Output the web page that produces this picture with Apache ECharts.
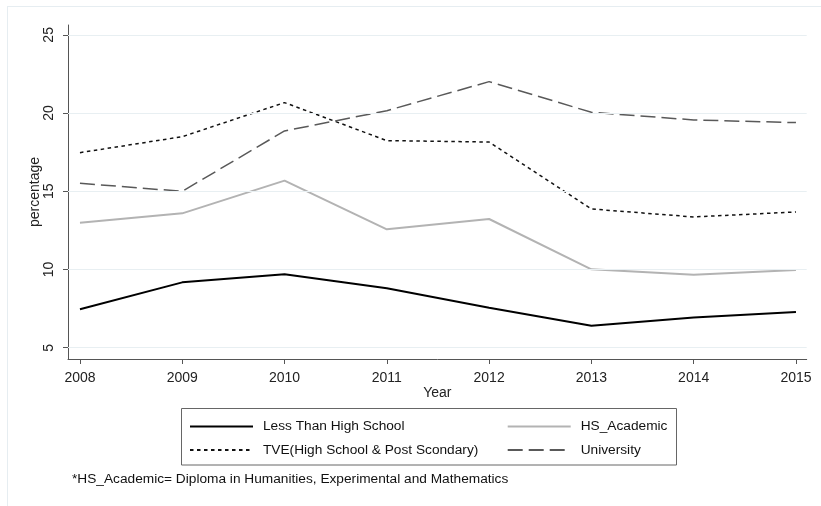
<!DOCTYPE html>
<html>
<head>
<meta charset="utf-8">
<script src="https://cdn.jsdelivr.net/npm/echarts@6/dist/echarts.min.js"></script>
<style>html,body{margin:0;padding:0;background:#fff}#c{width:821px;height:506px}</style>
</head>
<body>
<div id="c"></div>
<script>
const years = [2008, 2009, 2010, 2011, 2012, 2013, 2014, 2015];
const lessThanHS = [7.46, 9.18, 9.70, 8.80, 7.55, 6.41, 6.94, 7.28];
const hsAcademic = [12.99, 13.59, 15.68, 12.57, 13.23, 10.01, 9.67, 9.97];
const tve = [17.47, 18.49, 20.67, 18.24, 18.15, 13.87, 13.36, 13.68];
const university = [15.51, 15.00, 18.86, 20.15, 22.01, 20.05, 19.56, 19.39];
const yTicks = [5, 10, 15, 20, 25];
const seriesNames = ['Less Than High School', 'HS_Academic', 'TVE(High School & Post Scondary)', 'University'];
const footnote = '*HS_Academic= Diploma in Humanities, Experimental and Mathematics';

const FONT = '"Liberation Sans", Arial, sans-serif';
const pair = arr => years.map((y, i) => [y, arr[i]]);

const chart = echarts.init(document.getElementById('c'), null, {renderer: 'canvas'});
const mk = (name, data, color, width, type) => ({
  name, type: 'line', data: pair(data), symbol: 'none', showSymbol: false,
  lineStyle: {color, width, type}, itemStyle: {color}, animation: false, silent: true
});
const legendBase = {
  orient: 'vertical', top: 419.5, padding: 0,
  itemWidth: 63, itemHeight: 10, itemGap: 9.5,
  itemStyle: {opacity: 0},
  textStyle: {fontFamily: FONT, fontSize: 13.7, color: '#111', padding: [0, 0, 0, 5]},
  selectedMode: false
};

chart.setOption({
  animation: false,
  backgroundColor: '#fff',
  grid: {left: 68, right: 821 - 806.7, top: 25, bottom: 506 - 359, containLabel: false},
  xAxis: {
    type: 'value', min: 2007.883, max: 2015.105,
    name: 'Year', nameLocation: 'middle', nameGap: 27, nameMoveOverlap: false,
    nameTextStyle: {fontFamily: FONT, fontSize: 14, color: '#222'},
    axisLine: {show: true, lineStyle: {color: '#555', width: 1}},
    axisTick: {show: true, length: 5, lineStyle: {color: '#555'}, customValues: years},
    axisLabel: {fontFamily: FONT, fontSize: 14, color: '#222', margin: 12, customValues: years, formatter: v => String(v)},
    splitLine: {show: false}
  },
  yAxis: {
    type: 'value', min: 4.28, max: 25.63,
    name: 'percentage', nameLocation: 'middle', nameGap: 26, nameRotate: 90, nameMoveOverlap: false,
    nameTextStyle: {fontFamily: FONT, fontSize: 14, color: '#222'},
    axisLine: {show: true, lineStyle: {color: '#555', width: 1}},
    axisTick: {show: true, length: 5, lineStyle: {color: '#555'}, customValues: yTicks},
    axisLabel: {fontFamily: FONT, fontSize: 14, color: '#222', margin: 12, rotate: 90, customValues: yTicks},
    splitLine: {show: false}
  },
  legend: [
    Object.assign({}, legendBase, {data: [seriesNames[0], seriesNames[2]], left: 189}),
    Object.assign({}, legendBase, {data: [seriesNames[1], seriesNames[3]], left: 506.7})
  ],
  graphic: [
    {type: 'line', shape: {x1: 7, y1: 6.5, x2: 821, y2: 6.5}, style: {stroke: '#e6edf1', lineWidth: 1}, silent: true},
    {type: 'line', shape: {x1: 7.5, y1: 6, x2: 7.5, y2: 506}, style: {stroke: '#e6edf1', lineWidth: 1}, silent: true},
    {type: 'rect', shape: {x: 181.5, y: 408.5, width: 495, height: 56.5}, style: {fill: 'none', stroke: '#666', lineWidth: 1}, silent: true},
    {type: 'text', left: 72, top: 472.5, style: {text: footnote, font: '13.7px ' + FONT, fill: '#111'}, silent: true}
  ],
  series: [
    Object.assign(mk('gridlines', [], '#000', 0, 'solid'), {
      markLine: {
        silent: true, symbol: 'none', label: {show: false}, animation: false,
        lineStyle: {color: '#e8eff2', width: 1.2, type: 'solid'},
        data: yTicks.map(v => ({yAxis: v}))
      }
    }),
    mk(seriesNames[0], lessThanHS, '#000000', 2, 'solid'),
    mk(seriesNames[1], hsAcademic, '#b3b3b3', 2, 'solid'),
    mk(seriesNames[2], tve, '#111111', 1.5, [3.5, 3.5]),
    mk(seriesNames[3], university, '#595959', 1.5, [15, 6])
  ]
});
</script>
</body>
</html>
